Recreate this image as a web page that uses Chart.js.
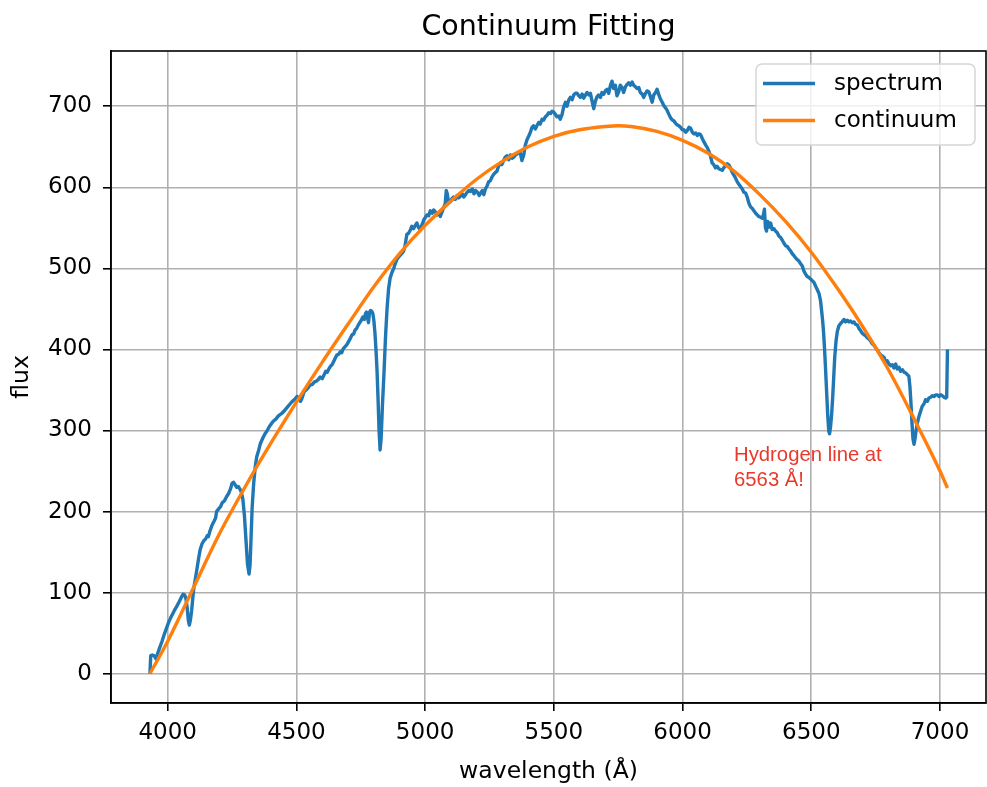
<!DOCTYPE html>
<html><head><meta charset="utf-8">
<script src="https://cdn.jsdelivr.net/npm/chart.js@4.4.1/dist/chart.umd.min.js"></script>
<style>html,body{margin:0;padding:0;background:#fff;}canvas{display:block;}</style>
</head><body>
<canvas id="c" width="987" height="787"></canvas>
<script>
// ---------- data ----------
const specWave = [
3931,3934,3940,3948,3955,3962,3970,3978,3986,3994,4002,4010,4018,4026,4035,4045,4054,4060,4066,4071,4076,4080,4084,4088,
4093,4098,4102,4108,4113,4120,4126,4133,4140,4147,4153,4158,4164,4172,4180,4186,4190,4197,4205,4212,4220,4228,4236,4244,4250,
4256,4262,4268,4274,4280,4286,4292,4298,4304,4310,4316,4320,4324,4328,4334,4340,4346,4352,
4360,4370,4378,4385,4395,4404,4412,4420,4430,4443,4452,4460,4468,4476,4484,4492,4502,
4510,4516,4522,4530,4538,4546,4553,4562,4570,4578,4585,4592,4600,4608,4614,4620,4626,4632,4640,4646,4652,4657,
4664,4670,4676,4682,4688,4696,4703,4710,4716,4722,4728,4734,4740,4746,4752,4758,4764,4768,4772,4776,4780,4784,4788,4793,4797,
4801,4805,4809,4813,4817,4821,4825,4829,4834,4840,4846,4852,4858,4864,4871,4878,4884,4892,4900,
4908,4916,4922,4929,4935,4942,4948,4955,4962,4968,4975,4981,4988,4995,5001,5007,5014,5020,5027,5033,5039,
5046,5052,5059,5066,5072,5078,5082,5086,5090,5097,5104,5110,5117,5124,5130,5137,5144,5150,5157,5163,5170,5176,5183,
5190,5196,5203,5210,5216,5222,5228,5234,5241,5247,5253,5260,5266,5272,5279,5285,5292,5298,5305,5311,5318,5325,
5331,5338,5344,5351,5357,5364,5370,5376,5383,5389,5396,5402,5409,5415,5421,5428,5434,5441,5447,5454,5460,5467,
5474,5480,5487,5493,5499,5506,5512,5519,5525,5532,5538,5545,5551,5558,5564,5571,5577,5584,5590,5597,5603,5610,
5616,5623,5629,5636,5642,5648,5655,5661,5668,5674,5681,5687,5694,5700,5707,5713,5720,5726,5732,5739,5745,5752,
5758,5765,5771,5778,5784,5791,5797,5804,5810,5817,5823,5830,5836,5843,5849,5856,5862,5869,5875,5882,5888,5895,
5901,5908,5914,5921,5927,5934,5940,5947,5953,5960,5966,5973,5979,5986,5992,5999,6005,6012,6018,6025,6031,
6038,6044,6051,6057,6064,6070,6077,6083,6090,6096,6103,6109,6115,6121,6128,6134,6141,6147,6154,6160,6167,6173,
6179,6186,6192,6199,6205,6212,6218,6225,6232,6238,6245,6251,6258,6264,6271,6277,6284,6290,6296,6303,
6309,6314,6318,6322,6326,6331,6336,6342,6348,6355,6361,6368,6374,6381,6387,6394,6400,6407,6413,6419,6426,6432,6439,
6445,6452,6458,6465,6471,6478,6484,6490,6497,6503,6510,6517,6523,6530,6536,6540,6544,6548,6552,6556,6560,6564,
6568,6571,6575,6579,6583,6587,6591,6596,6601,6607,6614,6620,6627,6633,6640,6646,6653,6659,6666,6672,6679,6685,6692,
6698,6705,6711,6718,6724,6731,6737,6744,6750,6757,6763,6770,6776,6783,6789,6795,6802,6808,6815,6821,6828,6834,
6841,6847,6854,6860,6867,6873,6879,6883,6887,6891,6895,6899,6903,6907,6912,6918,6925,6931,6938,6944,6951,
6957,6964,6970,6977,6983,6990,6996,7003,7009,7016,7022,7026,7029
];
const specFlux = [
0,22,23,22,18,26,33,40,48,55,62,68,73,78,83,89,95,98,97,92,80,66,60,66,
78,95,107,118,128,142,153,160,164,166,170,169,176,183,188,192,200,203,206,211,213,218,222,228,235,
236,233,230,231,228,224,215,195,165,135,123,135,170,205,235,255,268,274,
284,291,296,299,305,309,312,314,318,321,324,327,330,333,336,338,342,
339,336,340,348,350,353,356,357,360,361,363,366,364,369,373,372,376,379,382,386,390,393,
394,397,396,401,403,406,410,414,418,419,424,426,430,433,436,440,437,444,446,440,433,446,448,447,444,
435,420,400,375,340,300,276,290,330,370,415,450,475,488,495,500,506,512,515,
518,521,528,542,543,547,552,549,553,556,550,548,554,560,563,566,565,571,568,572,570,
566,568,564,570,575,580,596,592,583,582,586,588,585,590,587,589,592,588,591,594,596,595,598,
592,596,594,590,593,596,591,598,602,607,608,613,616,618,620,626,630,628,633,637,639,634,
640,636,637,640,641,643,642,633,640,652,659,663,668,674,676,672,676,680,678,684,683,687,
689,692,691,694,693,690,687,688,684,690,699,705,700,708,711,708,714,716,716,713,711,715,
710,714,717,714,716,707,697,706,712,714,711,717,715,719,721,716,726,731,722,726,713,718,
726,723,717,724,727,729,726,730,726,724,722,723,717,715,711,716,719,718,712,705,714,717,
721,714,709,705,701,698,695,690,686,683,682,679,677,676,674,671,671,668,670,674,673,
668,666,667,664,666,665,660,656,652,649,644,638,630,628,624,626,623,622,621,624,627,629,
628,624,619,615,612,607,604,601,598,594,593,588,580,576,574,571,568,566,564,563,
562,566,573,550,546,558,551,556,548,549,546,544,540,538,535,531,528,527,524,522,518,516,513,
511,509,506,503,497,493,490,489,487,485,483,478,474,469,460,448,436,420,398,372,345,318,
299,296,305,320,340,365,390,410,422,429,432,434,437,434,436,434,435,433,434,431,430,426,423,
420,418,417,414,413,410,407,405,402,399,396,393,392,390,383,386,382,380,381,377,382,376,
378,373,375,372,371,369,367,355,335,310,290,283,290,300,309,317,324,330,333,338,336,
340,341,343,342,344,344,342,344,343,341,340,341,400
];
const contWave = [3931,4000,4100,4200,4300,4400,4500,4600,4700,4800,4900,5000,5100,5200,5300,5400,5500,5600,5700,5750,5800,5900,6000,6100,6200,6300,6400,6500,6600,6700,6800,6900,7000,7029];
const contFlux = [0,40,106,172,230,284,335,384,431,477,518,553,583,610,632,650,663,671,675,676,675,669,658,642,620,591,558,520,476,428,375,314,250,229];
const seriesLabels = ['spectrum', 'continuum'];
const xTicks = [4000, 4500, 5000, 5500, 6000, 6500, 7000];
const yTicks = [0, 100, 200, 300, 400, 500, 600, 700];
const noteX = 6200, noteY = 230;
const noteLines = ['Hydrogen line at', '6563 Å!'];
const chartTitle = 'Continuum Fitting';
const xLabel = 'wavelength (Å)';
const yLabel = 'flux';

// ---------- drawing ----------
const FAM = '"DejaVu Sans", sans-serif';
Chart.defaults.font.family = FAM;
Chart.defaults.color = '#000';

const toPts = (xs, ys) => xs.map((x, i) => ({x: x, y: ys[i]}));

const framePlugin = {
  id: 'frame',
  afterDatasetsDraw(chart) {
    const {ctx, chartArea: a} = chart;
    ctx.save();
    ctx.strokeStyle = '#000';
    ctx.lineWidth = 1.6;
    ctx.strokeRect(a.left, a.top, a.right - a.left, a.bottom - a.top);
    ctx.restore();
  }
};

const notePlugin = {
  id: 'note',
  afterDatasetsDraw(chart) {
    const {ctx, scales} = chart;
    const px = scales.x.getPixelForValue(noteX);
    const py = scales.y.getPixelForValue(noteY);
    ctx.save();
    ctx.fillStyle = '#e8392c';
    ctx.font = '20.3px "Liberation Sans", Arial, sans-serif';
    ctx.textAlign = 'left';
    ctx.textBaseline = 'alphabetic';
    const lh = 25;
    noteLines.forEach((t, i) => {
      ctx.fillText(t, px, py - 1 - (noteLines.length - 1 - i) * lh);
    });
    ctx.restore();
  }
};

const legendPlugin = {
  id: 'boxLegend',
  afterDatasetsDraw(chart) {
    const {ctx, chartArea: a} = chart;
    const w = 219, h = 81;
    const right = a.right - 11, top = a.top + 13, left = right - w;
    ctx.save();
    ctx.beginPath();
    ctx.roundRect(left, top, w, h, 6);
    ctx.fillStyle = 'rgba(255,255,255,0.8)';
    ctx.fill();
    ctx.strokeStyle = '#d6d6d6';
    ctx.lineWidth = 1.5;
    ctx.stroke();
    ctx.font = '23px ' + FAM;
    ctx.textBaseline = 'middle';
    ctx.textAlign = 'left';
    chart.data.datasets.forEach((ds, i) => {
      const y = top + 19.5 + i * 37;
      ctx.beginPath();
      ctx.moveTo(left + 7, y);
      ctx.lineTo(left + 59, y);
      ctx.strokeStyle = ds.borderColor;
      ctx.lineWidth = ds.borderWidth;
      ctx.stroke();
      ctx.fillStyle = '#000';
      ctx.fillText(ds.label, left + 78, y + 1);
    });
    ctx.restore();
  }
};

const gridOpts = {color: '#b0b0b0', lineWidth: 1.6, drawTicks: true, tickLength: 8, tickColor: '#000', tickWidth: 1.6};

new Chart(document.getElementById('c'), {
  type: 'line',
  data: {
    datasets: [
      {label: seriesLabels[0], data: toPts(specWave, specFlux), borderColor: '#1f77b4', borderWidth: 3.4, pointRadius: 0, tension: 0, fill: false, borderJoinStyle: 'round', order: 1},
      {label: seriesLabels[1], data: toPts(contWave, contFlux), borderColor: '#ff7f0e', borderWidth: 3.4, pointRadius: 0, cubicInterpolationMode: 'monotone', fill: false, order: 0}
    ]
  },
  options: {
    responsive: false,
    animation: false,
    devicePixelRatio: 1,
    layout: {padding: {left: 0, right: 1, top: 0, bottom: 0}},
    plugins: {
      legend: {display: false},
      tooltip: {enabled: false},
      title: {display: true, text: chartTitle, fullSize: false, color: '#000',
              font: {family: FAM, size: 28.5, weight: 'normal'}, padding: {top: 10.5, bottom: 6.3}}
    },
    scales: {
      x: {
        type: 'linear', min: 3779.7, max: 7178.7,
        afterBuildTicks: s => { s.ticks = xTicks.map(v => ({value: v})); },
        afterFit: s => { s.height = 84; },
        grid: gridOpts,
        border: {display: true, color: '#000', width: 1.6},
        ticks: {color: '#000', font: {size: 23}, padding: 8.5, maxRotation: 0, autoSkip: false, callback: v => String(v)},
        title: {display: true, text: xLabel, color: '#000', font: {size: 23.5}, padding: {top: 0, bottom: 1.5}}
      },
      y: {
        type: 'linear', min: -36.2, max: 768.2,
        afterBuildTicks: s => { s.ticks = yTicks.map(v => ({value: v})); },
        afterFit: s => { s.width = 111; },
        grid: gridOpts,
        border: {display: true, color: '#000', width: 1.6},
        ticks: {color: '#000', font: {size: 23}, padding: 11, autoSkip: false, callback: v => String(v)},
        title: {display: true, text: yLabel, color: '#000', font: {size: 23.5}, padding: {top: 7.6, bottom: 0}}
      }
    }
  },
  plugins: [framePlugin, notePlugin, legendPlugin]
});
</script>
</body></html>
